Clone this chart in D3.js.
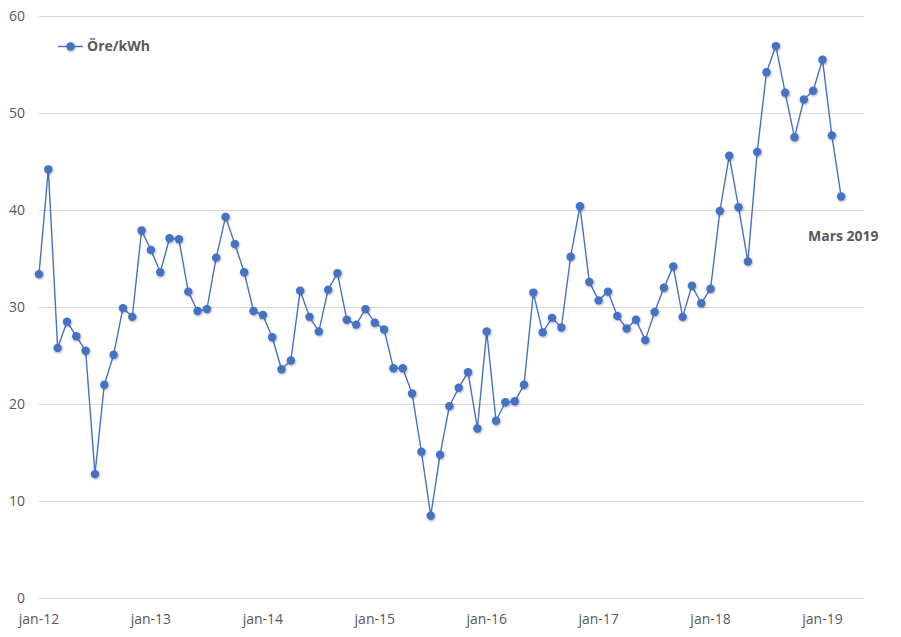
<!DOCTYPE html>
<html>
<head>
<meta charset="utf-8">
<script src="https://cdn.jsdelivr.net/npm/d3@7"></script>
<style>
  html, body { margin: 0; padding: 0; background: #ffffff; }
  svg { display: block; }
</style>
</head>
<body>
<svg id="chart" width="901" height="637"></svg>
<script>
// ---- Data (monthly, jan-2012 .. mar-2019) ----
const seriesName = "Öre/kWh";
const values = [
  33.4, 44.2, 25.8, 28.5, 27.0, 25.5, 12.8, 22.0, 25.1, 29.9, 29.0, 37.9,
  35.9, 33.6, 37.1, 37.0, 31.6, 29.6, 29.8, 35.1, 39.3, 36.5, 33.6, 29.6,
  29.2, 26.9, 23.6, 24.5, 31.7, 29.0, 27.5, 31.8, 33.5, 28.7, 28.2, 29.8,
  28.4, 27.7, 23.7, 23.7, 21.1, 15.1, 8.5, 14.8, 19.8, 21.7, 23.3, 17.5,
  27.5, 18.3, 20.2, 20.3, 22.0, 31.5, 27.4, 28.9, 27.9, 35.2, 40.4, 32.6,
  30.7, 31.6, 29.1, 27.8, 28.7, 26.6, 29.5, 32.0, 34.2, 29.0, 32.2, 30.4,
  31.9, 39.9, 45.6, 40.3, 34.7, 46.0, 54.2, 56.9, 52.1, 47.5, 51.4, 52.3,
  55.5, 47.7, 41.4
];
const xTickLabels = ["jan-12", "jan-13", "jan-14", "jan-15", "jan-16", "jan-17", "jan-18", "jan-19"];
const xTickIndex = [0, 12, 24, 36, 48, 60, 72, 84];
const yTicks = [0, 10, 20, 30, 40, 50, 60];
const lastLabel = "Mars 2019";

(function () {
// ---- Layout ----
const svg = d3.select("#chart");
const pLeft = 39, pRight = 864, pTop = 16, pBottom = 598.3;
const font = "'Open Sans', Calibri, sans-serif";
const textColor = "#595959";
const lineColor = "#4472C4";

const x = d3.scaleLinear().domain([0, 88.45]).range([pLeft, pRight]);
const y = d3.scaleLinear().domain([0, 60]).range([pBottom, pTop]);

// shadow filter
const defs = svg.append("defs");
const f = defs.append("filter").attr("id", "shadow")
  .attr("x", "-50%").attr("y", "-50%").attr("width", "200%").attr("height", "200%");
f.append("feDropShadow").attr("dx", 0.6).attr("dy", 1).attr("stdDeviation", 0.9)
  .attr("flood-color", "#000").attr("flood-opacity", 0.35);

// gridlines
svg.append("g").selectAll("line").data(yTicks).join("line")
  .attr("x1", pLeft).attr("x2", pRight)
  .attr("y1", d => Math.round(y(d)) + 0.5).attr("y2", d => Math.round(y(d)) + 0.5)
  .attr("stroke", "#d9d9d9").attr("stroke-width", 1);

// y labels
svg.append("g").selectAll("text").data(yTicks).join("text")
  .attr("x", 25).attr("y", d => y(d))
  .attr("dy", "0.35em")
  .attr("text-anchor", "end")
  .attr("font-family", font).attr("font-size", 14)
  .attr("fill", textColor)
  .text(d => d);

// x labels
svg.append("g").selectAll("text").data(xTickIndex).join("text")
  .attr("x", d => x(d)).attr("y", 619)
  .attr("dy", "0.35em")
  .attr("text-anchor", "middle")
  .attr("font-family", font).attr("font-size", 14)
  .attr("fill", textColor)
  .text((d, i) => xTickLabels[i]);

// line
const line = d3.line().x((d, i) => x(i)).y(d => y(d));
svg.append("path").datum(values)
  .attr("d", line)
  .attr("fill", "none")
  .attr("stroke", lineColor)
  .attr("stroke-width", 1.4)
  .attr("stroke-linejoin", "round");

// markers
svg.append("g").attr("filter", "url(#shadow)")
  .selectAll("circle").data(values).join("circle")
  .attr("cx", (d, i) => x(i)).attr("cy", d => y(d))
  .attr("r", 4.2)
  .attr("fill", lineColor);

// last point label
svg.append("text")
  .attr("x", 808).attr("y", 236)
  .attr("dy", "0.35em")
  .attr("font-family", font).attr("font-size", 14).attr("font-weight", "bold")
  .attr("fill", textColor)
  .text(lastLabel);

// legend
const lg = svg.append("g");
lg.append("line").attr("x1", 58).attr("x2", 83).attr("y1", 46.5).attr("y2", 46.5)
  .attr("stroke", lineColor).attr("stroke-width", 1.4);
lg.append("circle").attr("cx", 70.5).attr("cy", 46.5).attr("r", 4.2)
  .attr("fill", lineColor).attr("filter", "url(#shadow)");
lg.append("text").attr("x", 87).attr("y", 46.5).attr("dy", "0.35em")
  .attr("font-family", font).attr("font-size", 14).attr("font-weight", "bold")
  .attr("fill", textColor)
  .text(seriesName);
})();
</script>
</body>
</html>
